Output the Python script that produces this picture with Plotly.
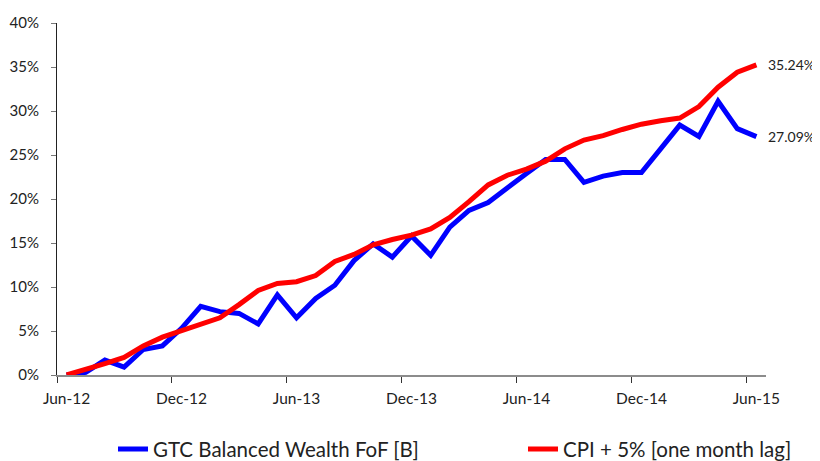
import plotly.graph_objects as go
import pandas as pd

# Monthly categories Jun-12 .. Jun-15
months = list(pd.date_range("2012-06-01", "2015-06-01", freq="MS").strftime("%b-%y"))
tick_labels = ["Jun-12", "Dec-12", "Jun-13", "Dec-13", "Jun-14", "Dec-14", "Jun-15"]

fund_name = "GTC Balanced Wealth FoF [B]"
cpi_name = "CPI + 5% [one month lag]"

fund = [0.0, 0.3, 1.7, 0.9, 2.9, 3.3, 5.3, 7.8, 7.2, 7.0, 5.8, 9.1, 6.5, 8.7, 10.2,
        13.0, 14.9, 13.4, 15.8, 13.6, 16.8, 18.7, 19.6, 21.3, 22.9, 24.5, 24.5, 21.9,
        22.6, 23.0, 23.0, 25.7, 28.4, 27.1, 31.1, 28.0, 27.09]
cpi = [0.0, 0.6, 1.3, 2.0, 3.3, 4.3, 5.0, 5.8, 6.5, 8.0, 9.6, 10.4, 10.6, 11.3, 12.9,
       13.7, 14.8, 15.4, 15.9, 16.6, 17.9, 19.7, 21.6, 22.7, 23.4, 24.3, 25.7, 26.7,
       27.2, 27.9, 28.5, 28.9, 29.2, 30.5, 32.7, 34.4, 35.24]

x = list(range(len(months)))
tickvals = [months.index(t) for t in tick_labels]

font_family = "Lato, 'Open Sans', sans-serif"

# The page body has an 8px margin, so the figure is sized to fill the rest of the window.
W, H = 812, 453

fig = go.Figure()
fig.add_trace(go.Scatter(x=x, y=fund, mode="lines", name=fund_name, legend="legend",
                         line=dict(color="#0000FF", width=5)))
fig.add_trace(go.Scatter(x=x, y=cpi, mode="lines", name=cpi_name, legend="legend2",
                         line=dict(color="#FF0000", width=5)))

for series in (cpi, fund):
    fig.add_annotation(x=x[-1], y=series[-1], text=f"{series[-1]:.2f}%",
                       xanchor="left", yanchor="middle", xshift=10, showarrow=False,
                       font=dict(size=14, color="#222", family=font_family))

legend_style = dict(orientation="h", xanchor="left", yref="container", y=0.07,
                    yanchor="top", xref="container",
                    font=dict(size=20.5, color="#222"), itemwidth=30,
                    bgcolor="rgba(0,0,0,0)")

fig.update_layout(
    width=W, height=H,
    margin=dict(l=49, r=54, t=15, b=86, autoexpand=False),
    paper_bgcolor="white", plot_bgcolor="white",
    font=dict(family=font_family, color="#222"),
    showlegend=True,
    legend=dict(x=105 / W, **legend_style),
    legend2=dict(x=515 / W, **legend_style),
    xaxis=dict(range=[-0.5, len(months) - 0.5], tickmode="array", tickvals=tickvals,
               ticktext=tick_labels, ticks="", showgrid=False, zeroline=False,
               showline=True, linecolor="#8c8c8c", linewidth=2,
               ticklabelstandoff=8,
               tickfont=dict(size=15.5, color="#222"),
               minor=dict(tickmode="array",
                          tickvals=[v - 0.5 for v in tickvals],
                          ticks="outside", ticklen=6, tickcolor="#333", tickwidth=1,
                          showgrid=False)),
    yaxis=dict(range=[0, 40], tickmode="linear", tick0=0, dtick=5, ticksuffix="%",
               ticks="outside", ticklen=5, tickcolor="#777", showgrid=False,
               zeroline=False, showline=True, linecolor="#222", linewidth=1,
               ticklabelstandoff=9,
               tickfont=dict(size=15, color="#222")),
)

fig.write_html("out.html")
